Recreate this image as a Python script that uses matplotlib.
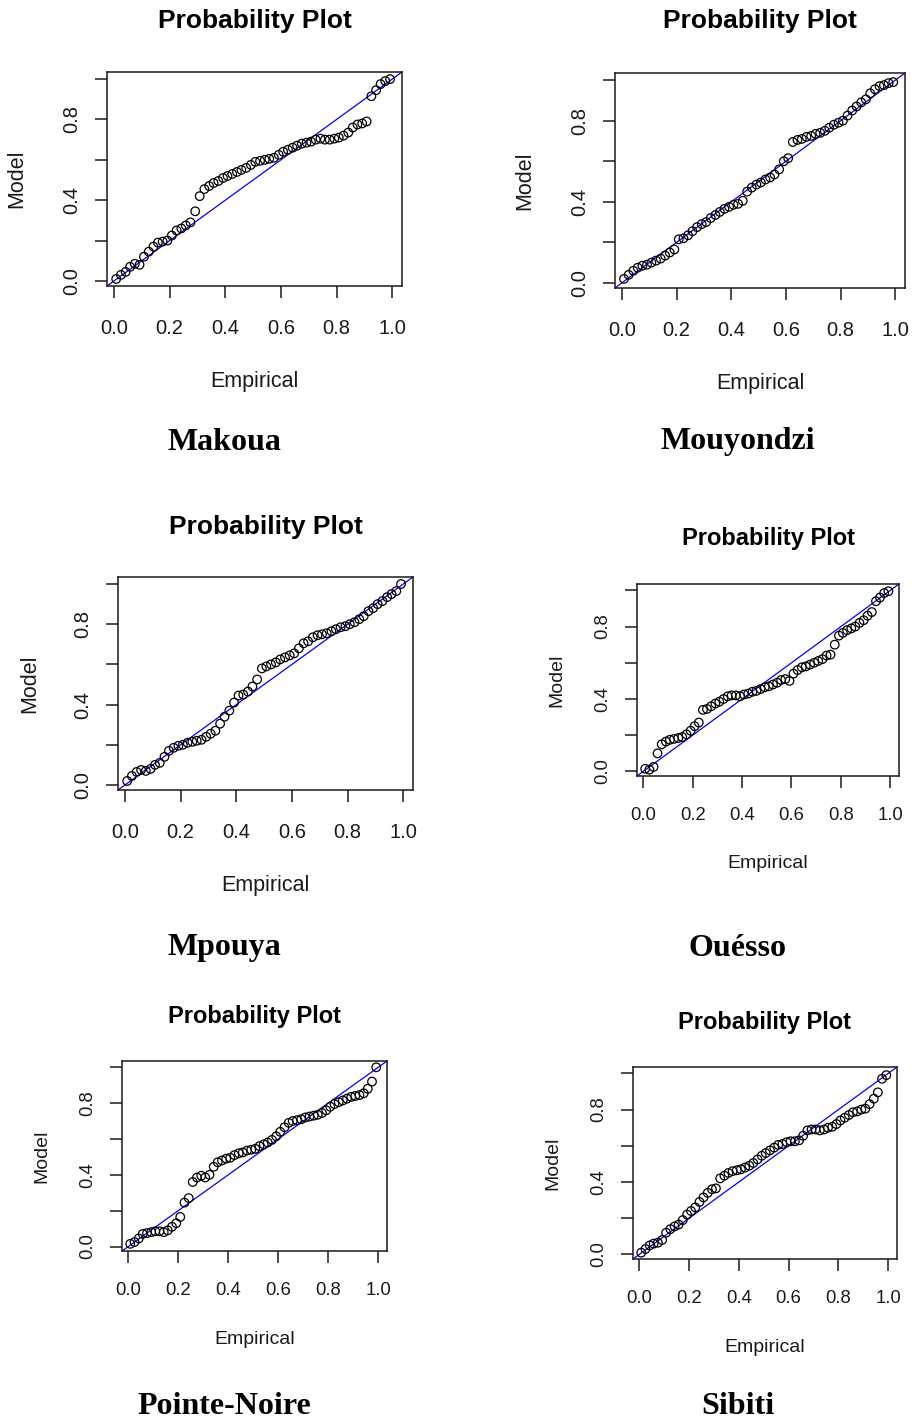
import matplotlib
matplotlib.use("Agg")
import matplotlib.pyplot as plt

W, H = 916, 1421
DPI = 100

plt.rcParams["font.family"] = ["Liberation Sans", "DejaVu Sans"]

STATIONS = ["Makoua", "Mouyondzi", "Mpouya", "Ouésso", "Pointe-Noire", "Sibiti"]

# plotting positions on the x axis (same for every station)
EMPIRICAL = [0.008, 0.025, 0.042, 0.058, 0.075, 0.092, 0.108, 0.125, 0.142, 0.158,
             0.175, 0.192, 0.208, 0.225, 0.242, 0.258, 0.275, 0.292, 0.308, 0.325,
             0.342, 0.358, 0.375, 0.392, 0.408, 0.425, 0.442, 0.458, 0.475, 0.492,
             0.508, 0.525, 0.542, 0.558, 0.575, 0.592, 0.608, 0.625, 0.642, 0.658,
             0.675, 0.692, 0.708, 0.725, 0.742, 0.758, 0.775, 0.792, 0.808, 0.825,
             0.842, 0.858, 0.875, 0.892, 0.908, 0.925, 0.942, 0.958, 0.975, 0.992]

MODEL_MAKOUA = [0.010, 0.030, 0.045, 0.070, 0.085, 0.080, 0.120, 0.145, 0.170, 0.190,
                0.195, 0.200, 0.225, 0.250, 0.260, 0.275, 0.290, 0.345, 0.420, 0.455,
                0.470, 0.485, 0.495, 0.510, 0.520, 0.530, 0.540, 0.550, 0.560, 0.575,
                0.590, 0.595, 0.600, 0.605, 0.610, 0.625, 0.640, 0.650, 0.660, 0.670,
                0.680, 0.685, 0.690, 0.700, 0.705, 0.700, 0.700, 0.705, 0.710, 0.720,
                0.735, 0.760, 0.775, 0.780, 0.790, 0.915, 0.945, 0.975, 0.990, 1.000]

MODEL_MOUYONDZI = [0.020, 0.040, 0.060, 0.075, 0.085, 0.090, 0.100, 0.110, 0.120, 0.135,
                   0.150, 0.165, 0.215, 0.220, 0.235, 0.255, 0.275, 0.290, 0.300, 0.320,
                   0.335, 0.350, 0.365, 0.375, 0.385, 0.390, 0.405, 0.450, 0.470, 0.485,
                   0.495, 0.510, 0.520, 0.535, 0.560, 0.600, 0.615, 0.695, 0.705, 0.710,
                   0.720, 0.725, 0.735, 0.740, 0.750, 0.765, 0.780, 0.790, 0.800, 0.825,
                   0.850, 0.870, 0.890, 0.905, 0.935, 0.955, 0.970, 0.975, 0.985, 0.990]

MODEL_MPOUYA = [0.020, 0.045, 0.065, 0.075, 0.070, 0.080, 0.100, 0.110, 0.140, 0.170,
                0.185, 0.195, 0.200, 0.210, 0.215, 0.220, 0.225, 0.240, 0.255, 0.270,
                0.305, 0.340, 0.370, 0.410, 0.445, 0.450, 0.465, 0.490, 0.525, 0.580,
                0.590, 0.600, 0.610, 0.625, 0.635, 0.645, 0.655, 0.680, 0.705, 0.715,
                0.735, 0.745, 0.750, 0.755, 0.765, 0.775, 0.785, 0.790, 0.800, 0.810,
                0.825, 0.840, 0.865, 0.880, 0.900, 0.915, 0.935, 0.950, 0.965, 1.000]

MODEL_OUESSO = [0.015, 0.010, 0.025, 0.100, 0.150, 0.165, 0.175, 0.180, 0.185, 0.190,
                0.205, 0.225, 0.250, 0.270, 0.340, 0.345, 0.360, 0.375, 0.385, 0.400,
                0.415, 0.420, 0.420, 0.415, 0.425, 0.430, 0.440, 0.445, 0.455, 0.465,
                0.470, 0.480, 0.490, 0.505, 0.510, 0.500, 0.540, 0.560, 0.575, 0.580,
                0.590, 0.600, 0.610, 0.620, 0.640, 0.645, 0.700, 0.750, 0.765, 0.780,
                0.790, 0.800, 0.820, 0.835, 0.860, 0.880, 0.940, 0.960, 0.985, 0.995]

MODEL_POINTE_NOIRE = [0.015, 0.025, 0.045, 0.070, 0.075, 0.080, 0.085, 0.085, 0.080, 0.090,
                      0.110, 0.130, 0.165, 0.245, 0.270, 0.360, 0.385, 0.395, 0.385, 0.400,
                      0.445, 0.470, 0.480, 0.490, 0.495, 0.510, 0.520, 0.525, 0.535, 0.540,
                      0.545, 0.560, 0.570, 0.580, 0.595, 0.615, 0.640, 0.665, 0.690, 0.700,
                      0.705, 0.710, 0.720, 0.725, 0.730, 0.735, 0.745, 0.760, 0.780, 0.795,
                      0.805, 0.815, 0.825, 0.835, 0.840, 0.845, 0.855, 0.880, 0.920, 1.000]

MODEL_SIBITI = [0.010, 0.030, 0.050, 0.060, 0.065, 0.080, 0.120, 0.140, 0.155, 0.165,
                0.190, 0.220, 0.240, 0.260, 0.290, 0.315, 0.340, 0.360, 0.365, 0.420,
                0.435, 0.450, 0.460, 0.465, 0.470, 0.480, 0.490, 0.505, 0.525, 0.545,
                0.560, 0.575, 0.590, 0.605, 0.610, 0.620, 0.625, 0.625, 0.630, 0.655,
                0.685, 0.690, 0.690, 0.685, 0.690, 0.700, 0.705, 0.720, 0.740, 0.755,
                0.770, 0.785, 0.790, 0.800, 0.805, 0.830, 0.860, 0.895, 0.970, 0.990]

MODELS = [MODEL_MAKOUA, MODEL_MOUYONDZI, MODEL_MPOUYA,
          MODEL_OUESSO, MODEL_POINTE_NOIRE, MODEL_SIBITI]

TICKS = [0.0, 0.2, 0.4, 0.6, 0.8, 1.0]
X_TICK_LABELS = ["0.0", "0.2", "0.4", "0.6", "0.8", "1.0"]
Y_TICK_LABELS = ["0.0", "", "0.4", "", "0.8", ""]

# pixel layout of each panel: plot box (left, top, right, bottom), text anchors
LAYOUT = [
    dict(box=(107, 72, 402, 286), title_y=21, model_x=17, emp_y=382, name=(224, 442), big=True),
    dict(box=(615, 73, 905, 288), title_y=21, model_x=525, emp_y=384, name=(738, 442), big=True),
    dict(box=(118, 577, 413, 790), title_y=527, model_x=30, emp_y=886, name=(224, 948), big=True),
    dict(box=(637, 584, 899, 776), title_y=539, model_x=557, emp_y=864, name=(738, 948), big=False),
    dict(box=(122, 1061, 387, 1251), title_y=1016, model_x=42, emp_y=1339, name=(224, 1406), big=False),
    dict(box=(633, 1067, 897, 1259), title_y=1022, model_x=553, emp_y=1348, name=(738, 1406), big=False),
]

LIM = (-0.025, 1.035)
INK = "#1a1a1a"


def fx(x):
    return x / W


def fy(y):
    return 1 - y / H


fig = plt.figure(figsize=(W / DPI, H / DPI), dpi=DPI)
fig.patch.set_facecolor("white")

for station, model, lay in zip(STATIONS, MODELS, LAYOUT):
    l, t, r, b = lay["box"]
    tick_fs = 14.5 if lay["big"] else 13.3
    label_fs = 15.5 if lay["big"] else 14
    title_fs = 19 if lay["big"] else 17

    ax = fig.add_axes([fx(l), fy(b), (r - l) / W, (b - t) / H])
    ax.axline((0, 0), slope=1, color="#0000ff", lw=0.9, zorder=2)
    ax.scatter(EMPIRICAL, model, s=38, facecolors="none", edgecolors="black",
               linewidths=0.9, zorder=3)
    ax.set_xlim(LIM)
    ax.set_ylim(LIM)

    ax.set_xticks(TICKS)
    ax.set_xticklabels(X_TICK_LABELS)
    ax.set_yticks(TICKS)
    ax.set_yticklabels(Y_TICK_LABELS, rotation=90, va="center")
    ax.tick_params(axis="both", direction="out", length=8.6, width=1.1,
                   colors=INK, labelsize=tick_fs)
    ax.tick_params(axis="x", pad=15 if lay["big"] else 13.7)
    ax.tick_params(axis="y", pad=10)
    for sp in ax.spines.values():
        sp.set_linewidth(1.1)
        sp.set_color(INK)

    cx = (l + r) / 2
    cy = (t + b) / 2
    fig.text(fx(cx), fy(lay["title_y"]), "Probability Plot", fontsize=title_fs,
             fontweight="bold", ha="center", va="center", color="black")
    fig.text(fx(lay["model_x"]), fy(cy), "Model", fontsize=label_fs, rotation=90,
             ha="center", va="center", color=INK)
    fig.text(fx(cx), fy(lay["emp_y"]), "Empirical", fontsize=label_fs,
             ha="center", va="center", color=INK)
    nx, ny = lay["name"]
    fig.text(fx(nx), fy(ny), station, fontsize=23, fontweight="bold",
             family=["Liberation Serif", "DejaVu Serif"],
             ha="center", va="center", color="black")

fig.savefig("out.png", dpi=DPI, facecolor="white")
